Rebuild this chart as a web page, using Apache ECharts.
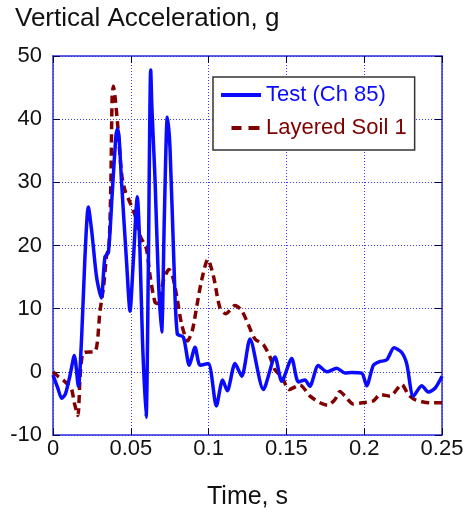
<!DOCTYPE html>
<html>
<head>
<meta charset="utf-8">
<script src="https://cdn.jsdelivr.net/npm/echarts/dist/echarts.min.js"></script>
<style>html,body{margin:0;padding:0;background:#fff;}#c{width:467px;height:515px;}</style>
</head>
<body>
<div id="c"></div>
<script>
var xTicks = [0, 0.05, 0.1, 0.15, 0.2, 0.25];
var yTicks = [-10, 0, 10, 20, 30, 40, 50];

var testT = [0,0.003,0.0056,0.008,0.011,0.0137,0.0163,0.0185,0.0205,0.0227,0.025,0.028,0.031,0.0334,0.0356,0.038,0.0405,0.0415,0.0425,0.044,0.0473,0.0495,0.0515,0.0542,0.0559,0.0575,0.0598,0.0612,0.0628,0.0636,0.0656,0.0677,0.0698,0.0716,0.0735,0.0752,0.0777,0.0799,0.0838,0.0876,0.0913,0.0945,0.0998,0.105,0.109,0.112,0.117,0.1213,0.1266,0.1352,0.1427,0.147,0.1534,0.1577,0.162,0.165,0.1705,0.176,0.1823,0.1877,0.192,0.1984,0.2016,0.2059,0.2097,0.2145,0.2192,0.224,0.2273,0.2316,0.237,0.2412,0.2455,0.25];
var testV = [-0.5,-2.5,-4.2,-3.5,-0.5,2.6,-2.3,6,18,26.1,22,15,11.7,18.2,18.9,28,37.5,38.5,37,30.3,17.3,9.6,17,27.7,19,5,-7.2,15,47.8,41.6,30.3,14.8,6.3,25,40.3,35.4,17.3,6.0,5.5,1.05,3.9,1.05,1.3,-5.4,-1.3,-3.0,1.3,-0.7,5.2,-2.8,2.35,-1.5,2.1,-1.6,-1.3,-2.3,1.0,0,0.55,-0.2,-0.1,-0.2,-2.2,1.05,1.6,1.9,3.8,3.1,1.3,-3.85,-2.2,-3.2,-2.6,-0.7];

var soilT = [0,0.0034,0.0066,0.0095,0.012,0.0137,0.016,0.0174,0.019,0.0206,0.027,0.0302,0.0325,0.0345,0.036,0.0372,0.038,0.0388,0.0398,0.0416,0.0441,0.0463,0.0495,0.0527,0.056,0.060,0.0625,0.0656,0.068,0.071,0.0745,0.077,0.0795,0.0827,0.0865,0.0895,0.0925,0.0955,0.0995,0.103,0.1073,0.111,0.117,0.1213,0.1255,0.1298,0.1352,0.1395,0.1427,0.147,0.1518,0.1587,0.1652,0.1716,0.1765,0.1812,0.1844,0.1877,0.193,0.1984,0.2059,0.2102,0.2166,0.2241,0.2283,0.2326,0.2423,0.25];
var soilV = [0,-0.75,-1.3,-2.0,-2.8,-4.9,-6.9,-0.7,2.9,3.1,3.2,9.6,13.5,18.5,19.8,30,43.5,45.2,43.7,39,31.3,28.7,26.8,24.8,21.5,19.5,15,11,10.8,14.5,16.2,15,12,7.5,4.9,6.5,10.5,14.5,17.8,15.3,10.1,9.2,10.5,9.7,7.5,5.2,4.3,2.35,0.3,-0.75,-2.8,-2.1,-3.85,-4.9,-5.3,-4.4,-3.1,-3.85,-5.1,-4.9,-4.6,-3.6,-3.85,-2.0,-3.6,-4.4,-4.9,-4.9];

var seriesNames = ['Test (Ch 85)', 'Layered Soil 1'];
var titleText = 'Vertical Acceleration, g';
var xName = 'Time, s';

function pairs(t, v) { return t.map(function (x, i) { return [x, v[i]]; }); }

var FONT = '"Liberation Sans", Arial, sans-serif';
var BLUE = '#0a0aff';
var RED = '#800000';
var AXIS = '#2b2bdd';
var TICK = {show: true, inside: true, length: 7, lineStyle: {color: '#000050', width: 1}};

var chart = echarts.init(document.getElementById('c'), null, {renderer: 'canvas'});
chart.setOption({
  animation: false,
  backgroundColor: '#fff',
  title: {
    text: titleText, left: 15, top: 6, padding: 0,
    textStyle: {fontFamily: FONT, fontSize: 26, fontWeight: 'normal', color: '#111'}
  },
  legend: {
    left: 213, top: 77, orient: 'vertical',
    padding: [6, 8, 10, 8],
    itemWidth: 40, itemHeight: 4, itemGap: 9,
    borderColor: '#333', borderWidth: 1.5, backgroundColor: '#fff',
    textStyle: {fontFamily: FONT, fontSize: 22, lineHeight: 24},
    data: [
      {name: seriesNames[0], icon: 'rect', itemStyle: {color: BLUE}, textStyle: {color: BLUE}},
      {name: seriesNames[1], icon: 'path://M0,0h0.01v4h-0.01zM9,0h10v4h-10zM26,0h11v4h-11z', itemStyle: {color: RED}, textStyle: {color: RED}}
    ]
  },
  grid: {left: 53, right: 25, top: 56, bottom: 72, containLabel: false},
  xAxis: [{
    type: 'value', min: 0, max: 0.25, interval: 0.05, position: 'bottom',
    name: xName, nameLocation: 'middle', nameGap: 50,
    nameTextStyle: {fontFamily: FONT, fontSize: 25, color: '#111'},
    axisLine: {show: true, onZero: false, lineStyle: {color: AXIS, width: 1.5}},
    axisTick: TICK,
    axisLabel: {fontFamily: FONT, fontSize: 22, color: '#111', margin: 3,
      formatter: function (v) { return String(+v.toFixed(2)); }},
    splitLine: {show: true, lineStyle: {color: '#3a3aff', type: [1, 2], width: 1}}
  }, {
    type: 'value', min: 0, max: 0.25, interval: 0.05, position: 'top',
    axisLine: {show: true, onZero: false, lineStyle: {color: AXIS, width: 1.5}},
    axisTick: TICK,
    axisLabel: {show: false}, splitLine: {show: false}
  }],
  yAxis: [{
    type: 'value', min: -10, max: 50, interval: 10, position: 'left',
    axisLine: {show: true, onZero: false, lineStyle: {color: AXIS, width: 1.5}},
    axisTick: TICK,
    axisLabel: {fontFamily: FONT, fontSize: 22, color: '#111', margin: 11},
    splitLine: {show: true, lineStyle: {color: '#3a3aff', type: [1, 2], width: 1}}
  }, {
    type: 'value', min: -10, max: 50, interval: 10, position: 'right',
    axisLine: {show: true, onZero: false, lineStyle: {color: AXIS, width: 1.5}},
    axisTick: TICK,
    axisLabel: {show: false}, splitLine: {show: false}
  }],
  series: [{
    name: seriesNames[0], type: 'line', data: pairs(testT, testV),
    xAxisIndex: 0, yAxisIndex: 0, showSymbol: false, symbol: 'none', smooth: 0.25,
    lineStyle: {color: BLUE, width: 3.5}, itemStyle: {color: BLUE}, z: 3
  }, {
    name: seriesNames[1], type: 'line', data: pairs(soilT, soilV),
    xAxisIndex: 0, yAxisIndex: 0, showSymbol: false, symbol: 'none', smooth: 0.25,
    lineStyle: {color: RED, width: 3.5, type: [8, 5]}, itemStyle: {color: RED}, z: 2
  }]
});
</script>
</body>
</html>
